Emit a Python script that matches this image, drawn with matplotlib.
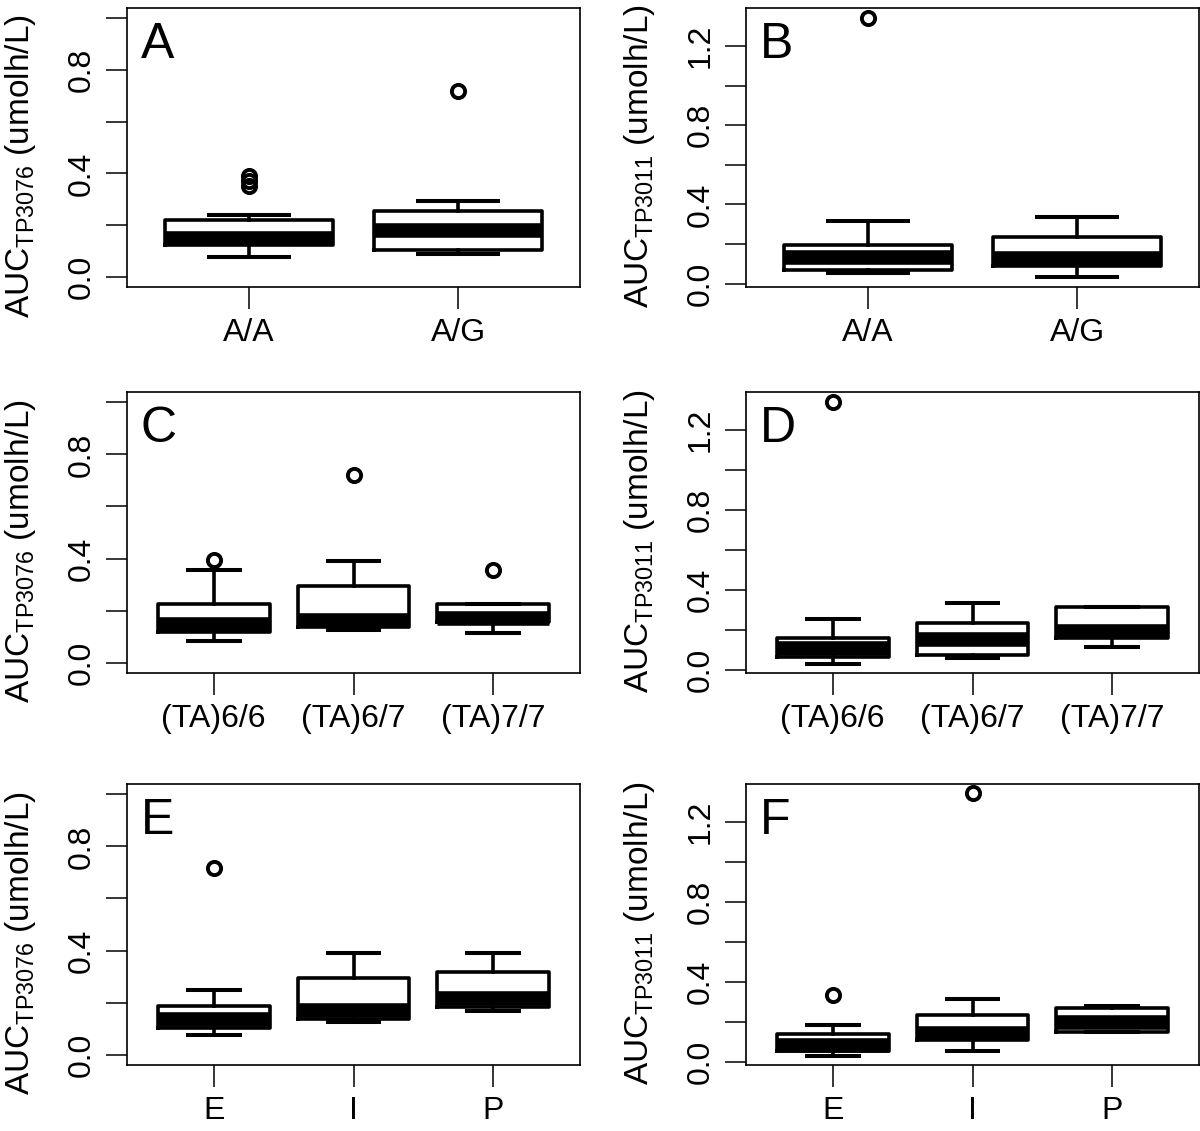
import matplotlib

matplotlib.use("Agg")
import matplotlib.pyplot as plt

plt.rcParams["font.family"] = ["Liberation Sans", "DejaVu Sans"]
plt.rcParams["mathtext.fontset"] = "custom"
plt.rcParams["mathtext.rm"] = "Liberation Sans"

SNP_GROUPS = ["A/A", "A/G"]
TA_GROUPS = ["(TA)6/6", "(TA)6/7", "(TA)7/7"]
PHENO_GROUPS = ["E", "I", "P"]

# per group: lower whisker, Q1, median, Q3, upper whisker
A_STATS = [[0.077, 0.124, 0.150, 0.218, 0.240], [0.087, 0.103, 0.182, 0.256, 0.292]]
A_FLIERS = [[0.35, 0.37, 0.39], [0.718]]
B_STATS = [[0.054, 0.071, 0.132, 0.197, 0.317], [0.034, 0.089, 0.127, 0.236, 0.338]]
B_FLIERS = [[1.342], []]
C_STATS = [[0.083, 0.118, 0.147, 0.226, 0.354],
           [0.124, 0.137, 0.164, 0.294, 0.392],
           [0.115, 0.157, 0.171, 0.226, 0.226]]
C_FLIERS = [[0.394], [0.722], [0.354]]
D_STATS = [[0.030, 0.064, 0.110, 0.156, 0.253],
           [0.060, 0.075, 0.152, 0.236, 0.335],
           [0.111, 0.156, 0.194, 0.315, 0.315]]
D_FLIERS = [[1.342], [], []]
E_STATS = [[0.076, 0.104, 0.135, 0.187, 0.248],
           [0.127, 0.136, 0.172, 0.296, 0.392],
           [0.166, 0.182, 0.218, 0.318, 0.392]]
E_FLIERS = [[0.717], [], []]
F_STATS = [[0.030, 0.055, 0.082, 0.136, 0.184],
           [0.052, 0.106, 0.144, 0.236, 0.315],
           [0.147, 0.147, 0.201, 0.270, 0.277]]
F_FLIERS = [[0.332], [1.346], []]

LEFT_TICKS = [0.0, 0.2, 0.4, 0.6, 0.8, 1.0]
LEFT_TICKLABELS = ["0.0", "", "0.4", "", "0.8", ""]
RIGHT_TICKS = [0.0, 0.2, 0.4, 0.6, 0.8, 1.0, 1.2]
RIGHT_TICKLABELS = ["0.0", "", "0.4", "", "0.8", "", "1.2"]

LW = 2.6


def draw_panel(ax, groups, stats, fliers, letter, compound):
    rows = []
    for label, s, f in zip(groups, stats, fliers):
        rows.append(dict(label=label, whislo=s[0], q1=s[1], med=s[2], q3=s[3], whishi=s[4], fliers=f))
    n = len(groups)
    ax.bxp(
        rows,
        positions=range(1, n + 1),
        widths=0.8,
        boxprops=dict(color="black", linewidth=LW),
        medianprops=dict(color="black", linewidth=10.5, solid_capstyle="butt"),
        whiskerprops=dict(color="black", linewidth=LW),
        capprops=dict(color="black", linewidth=LW + 0.3, solid_capstyle="butt"),
        flierprops=dict(marker="o", markersize=9.5, markerfacecolor="none",
                        markeredgecolor="black", markeredgewidth=2.8),
    )
    ax.set_xlim(0.5 - 0.04 * n, n + 0.5 + 0.04 * n)
    if compound == "TP3076":
        ax.set_ylim(-0.04, 1.04)
        ax.set_yticks(LEFT_TICKS, LEFT_TICKLABELS, rotation=90, va="center")
        label_y = 0.435
    else:
        ax.set_ylim(-0.017, 1.392)
        ax.set_yticks(RIGHT_TICKS, RIGHT_TICKLABELS, rotation=90, va="center")
        label_y = 0.47
    ax.tick_params(axis="y", length=15, width=1.1, pad=7, labelsize=23)
    ax.tick_params(axis="x", length=16, width=1.1, pad=6, labelsize=23)
    for spine in ax.spines.values():
        spine.set_linewidth(1.2)
    ax.text(0.03, 0.95, letter, transform=ax.transAxes, ha="left", va="top", fontsize=36)
    ax.text(-0.236, label_y, r"AUC$_{\mathregular{%s}}$ (umolh/L)" % compound,
            transform=ax.transAxes, rotation=90, ha="center", va="center", fontsize=24)


fig = plt.figure(figsize=(12, 11.31), dpi=100)
col_x = [127 / 1200, 746 / 1200]
col_w = 453 / 1200
row_y = [(1131 - 287) / 1131, (1131 - 673) / 1131, (1131 - 1065) / 1131]
row_h = [279 / 1131, 281 / 1131, 281 / 1131]

panels = [
    (0, 0, SNP_GROUPS, A_STATS, A_FLIERS, "A", "TP3076"),
    (0, 1, SNP_GROUPS, B_STATS, B_FLIERS, "B", "TP3011"),
    (1, 0, TA_GROUPS, C_STATS, C_FLIERS, "C", "TP3076"),
    (1, 1, TA_GROUPS, D_STATS, D_FLIERS, "D", "TP3011"),
    (2, 0, PHENO_GROUPS, E_STATS, E_FLIERS, "E", "TP3076"),
    (2, 1, PHENO_GROUPS, F_STATS, F_FLIERS, "F", "TP3011"),
]
for row, col, groups, stats, fliers, letter, compound in panels:
    ax = fig.add_axes([col_x[col], row_y[row], col_w, row_h[row]])
    draw_panel(ax, groups, stats, fliers, letter, compound)

fig.savefig("out.png", dpi=100)
